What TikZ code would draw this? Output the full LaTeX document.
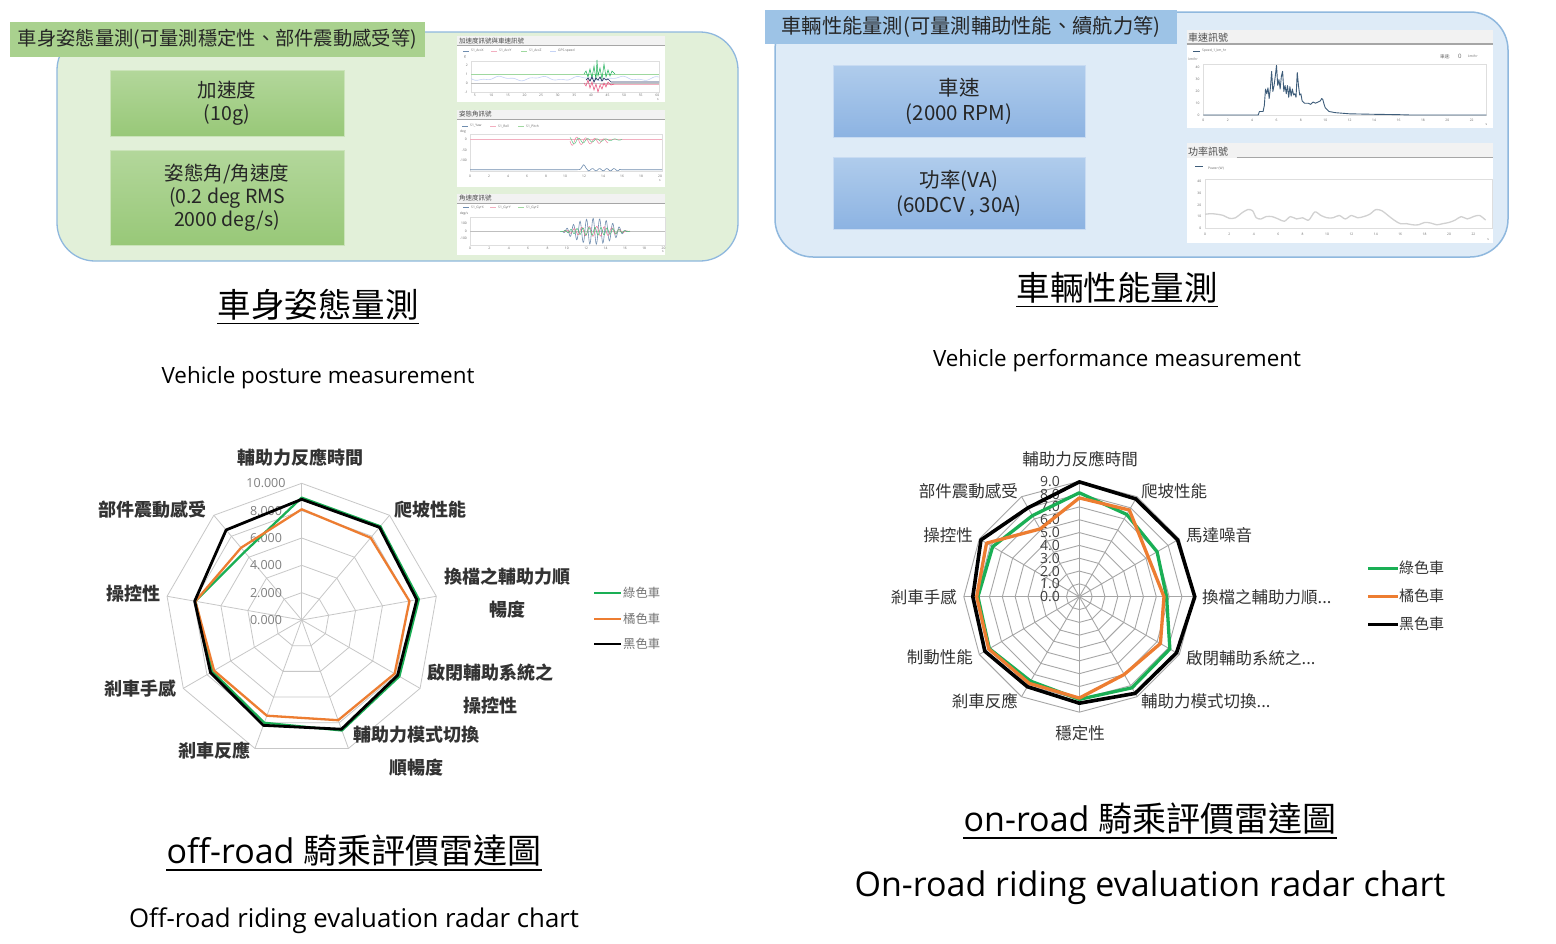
\documentclass[tikz,border=0pt]{standalone}
\usepackage{fontspec}
\setmainfont{Open Sans}
\newfontfamily\cjk{Noto Sans CJK TC}
\newcommand\fsz[1]{\fontsize{#1}{#1}\selectfont}
\definecolor{pGreen}{HTML}{E2F0D9}
\definecolor{pGreenT}{HTML}{A9D18E}
\definecolor{pBlue}{HTML}{DEEBF7}
\definecolor{pBlueT}{HTML}{9DC3E6}
\definecolor{edgeB}{HTML}{8FB8DE}
\definecolor{cG}{HTML}{1AAF55}
\definecolor{cO}{HTML}{ED7D31}
\definecolor{txt}{HTML}{262626}
\definecolor{gbTop}{HTML}{B3D79B}
\definecolor{gbBot}{HTML}{98C878}
\definecolor{bbTop}{HTML}{B0CCEC}
\definecolor{bbBot}{HTML}{8CB3E2}
\definecolor{spdC}{HTML}{3E5D7A}
\definecolor{navy}{HTML}{2B3A67}
\definecolor{pinkC}{HTML}{E8507A}
\definecolor{lpink}{HTML}{F2AFC0}
\definecolor{lblue}{HTML}{C5D3F5}
\definecolor{lgreen}{HTML}{9FD89F}
\definecolor{gblue}{HTML}{6F8DAF}
\newcommand\radarpoly[7]{%
  \draw[#1] ({#2+#6*#4*cos(90)},{#3-#6*#4*sin(90)})
    \foreach \v [count=\k] in {#7} { -- ({#2+\v*#4*cos(90-#5*\k)},{#3-\v*#4*sin(90-#5*\k)}) } -- cycle;}
\begin{document}
\begin{tikzpicture}[x=1pt,y=-1pt,
  every node/.style={inner sep=0pt},
  panelG/.style={fill=pGreen, draw=edgeB, line width=1.3pt, rounded corners=38pt},
  panelB/.style={fill=pBlue, draw=edgeB, line width=1.5pt, rounded corners=38pt},
  ttlG/.style={fill=pGreenT, minimum width=415pt, minimum height=35pt, font=\cjk\fsz{19.3}, text=txt},
  ttlB/.style={fill=pBlueT, minimum width=412pt, minimum height=34pt, font=\cjk\fsz{20.3}, text=txt},
  gbox/.style={top color=gbTop, bottom color=gbBot, draw=gbTop!70!white, line width=0.8pt, align=center, font=\cjk\fontsize{19.5}{23}\selectfont, text=txt},
  bbox/.style={top color=bbTop, bottom color=bbBot, draw=bbTop!70!white, line width=0.8pt, align=center, font=\cjk\fontsize{20.5}{25}\selectfont, text=txt},
  thumb/.style={fill=white},
  thead/.style={fill=black!5},
  tbar/.style={draw=black!35, line width=0.8pt},
  tframe/.style={draw=black!13, line width=0.4pt},
  ttitle/.style={anchor=west, font=\cjk\fsz{6.5}, text=black!70},
  tiny/.style={font=\fsz{3.3}, text=black!60},
  tinyE/.style={font=\fsz{3.3}, text=black!60, anchor=east},
  tinyW/.style={font=\fsz{3.3}, text=black!60, anchor=west},
  head/.style={font=\cjk\fsz{33.5}, text=black},
  uline/.style={draw=black, line width=1.2pt},
  gridL/.style={draw=black!22, line width=0.8pt},
  gridR/.style={draw=black!35, line width=0.9pt},
  labL/.style={font=\cjk\bfseries\fontsize{18}{33}\selectfont, text=black!80, align=center},
  labR/.style={font=\cjk\fsz{16.5}, text=black!80},
  tickL/.style={font=\fsz{12.5}, text=black!50},
  tickR/.style={font=\fsz{14}, text=black!75},
  legL/.style={font=\cjk\fsz{12.3}, text=black!55, anchor=west},
  legR/.style={font=\cjk\fsz{15}, text=black!80, anchor=west},
  sGL/.style={draw=cG, line width=2.3pt, line join=round},
  sOL/.style={draw=cO, line width=2.3pt, line join=round},
  sKL/.style={draw=black, line width=2.8pt, line join=round},
  sGR/.style={draw=cG, line width=3.3pt, line join=round},
  sOR/.style={draw=cO, line width=3.3pt, line join=round},
  sKR/.style={draw=black, line width=3.6pt, line join=round}
]
\useasboundingbox (0,0) rectangle (1556,943);
\fill[white] (0,0) rectangle (1556,943);

% ================= top-left panel =================
\draw[panelG] (57,32) rectangle (738,261);
\node[ttlG] (t1) at (217.5,39.5) {車身姿態量測(可量測穩定性、部件震動感受等)};
\node[gbox, minimum width=234pt, minimum height=66pt] (acc) at (227,103) {加速度\\(10g)};
\node[gbox, minimum width=234pt, minimum height=95pt] (att) at (227,197.5) {姿態角/角速度\\(0.2 deg RMS\\2000 deg/s)};

% thumbnail 1
\fill[thumb] (457,36) rectangle (665,102);
\fill[thead] (457,36) rectangle (665,45);
\draw[tbar] (457,45.3) -- (665,45.3);
\node[ttitle] (c1t) at (459,40.7) {加速度訊號與車速訊號};
\draw[gblue, line width=0.5pt] (463,51) -- (469,51);
\node[tinyW] (c1l1) at (471,51) {S1\_AccX};
\draw[lpink, line width=0.5pt] (491,51) -- (497,51);
\node[tinyW] (c1l2) at (499,51) {S1\_AccY};
\draw[lgreen, line width=0.5pt] (521,51) -- (527,51);
\node[tinyW] (c1l3) at (529,51) {S1\_AccZ};
\draw[lblue, line width=0.5pt] (550,51) -- (556,51);
\node[tinyW] (c1l4) at (558,51) {GPS.speed};
\node[tiny] (c1u) at (465,57) {g};
\draw[tframe] (471,61) rectangle (659,92);
\foreach \v/\y [count=\n] in {2/65.3,1/74.3,0/83,-1/92} \node[tinyE] (c1y\n) at (468,\y) {\v};
\foreach \v [count=\n] in {5,10,...,60} \node[tiny] (c1x\n) at ({474.7+(\n-1)*16.6},95.5) {\v};
\node[tiny] (c1s) at (658,100) {s};
\draw[black!25, line width=0.5pt] (471,83) -- (659,83);
\draw[lgreen, line width=0.6pt] (471,74.3) -- (659,74.3);
\draw[lblue, line width=0.6pt] plot[domain=471:659, samples=90, smooth] (\x,{78.5+1.6*sin(9*(\x-471))+0.8*sin(23*(\x-471))});
\draw[lpink, line width=0.5pt] (600,84) -- (659,84);
\draw[cG, line width=0.5pt] plot coordinates {(584,74) (586,71) (588,77) (590,69) (592,78) (594,66) (596,80) (597,60) (598,76) (600,68) (602,79) (604,64) (606,77) (608,70) (610,76) (612,71) (615,74)};
\draw[pinkC, line width=0.5pt] plot coordinates {(584,83) (586,86) (588,80) (590,88) (592,82) (594,90) (596,84) (598,92) (600,85) (602,89) (604,83) (606,87) (608,82) (611,85) (614,84)};
\draw[navy, line width=0.7pt] plot coordinates {(586,80) (588,78) (590,81) (592,77) (594,82) (596,78) (598,80) (600,77) (602,81) (604,78) (606,80) (608,79) (611,82) (659,82)};

% thumbnail 2
\fill[thumb] (457,110) rectangle (665,187);
\fill[thead] (457,110) rectangle (665,119);
\draw[tbar] (457,119) -- (665,119);
\node[ttitle] (c2t) at (459,114.3) {姿態角訊號};
\draw[gblue, line width=0.5pt] (462,126) -- (468,126);
\node[tinyW] (c2l1) at (470,126) {S1\_Yaw};
\draw[lpink, line width=0.5pt] (490,126) -- (496,126);
\node[tinyW] (c2l2) at (498,126) {S1\_Roll};
\draw[lgreen, line width=0.5pt] (518,126) -- (524,126);
\node[tinyW] (c2l3) at (526,126) {S1\_Pitch};
\node[tiny] (c2u) at (463,132) {deg};
\draw[tframe] (470,134) rectangle (662,171);
\foreach \v/\y [count=\n] in {0/139.7,-50/150,-100/160} \node[tinyE] (c2y\n) at (467,\y) {\v};
\foreach \v [count=\n] in {0,2,...,20} \node[tiny] (c2x\n) at ({470+\v*9.5},176) {\v};
\node[tiny] (c2s) at (660,181) {s};
\draw[lpink, line width=0.6pt] (470,139.7) -- (662,139.7);
\draw[pinkC!70, line width=0.5pt] plot[domain=570:608, samples=80, smooth] (\x,{141+4.5*sin(40*(\x-570))*exp(-(\x-570)/45)});
\draw[cG!70, line width=0.5pt] plot[domain=570:622, samples=90, smooth] (\x,{141-0.03*(\x-570)+3.5*sin(40*(\x-572))*exp(-(\x-570)/30)});
\draw[gblue, line width=0.6pt] plot[domain=470:662, samples=160, smooth] (\x,{169.7-5*exp(-((\x-583.7)/2.2)^2)+(\x>587)*(\x<620)*1.2*sin(50*(\x-587))});

% thumbnail 3
\fill[thumb] (457,194) rectangle (665,255);
\fill[thead] (457,194) rectangle (665,203);
\draw[tbar] (457,203) -- (665,203);
\node[ttitle] (c3t) at (459,198) {角速度訊號};
\draw[gblue, line width=0.5pt] (463,207.7) -- (469,207.7);
\node[tinyW] (c3l1) at (471,207.7) {S1\_GyrX};
\draw[lpink, line width=0.5pt] (490,207.7) -- (496,207.7);
\node[tinyW] (c3l2) at (498,207.7) {S1\_GyrY};
\draw[lgreen, line width=0.5pt] (518,207.7) -- (524,207.7);
\node[tinyW] (c3l3) at (526,207.7) {S1\_GyrZ};
\node[tiny] (c3u) at (464,214) {deg/s};
\draw[tframe] (470,217) rectangle (665,245);
\foreach \v/\y [count=\n] in {100/223.7,0/231.3,-100/238.7} \node[tinyE] (c3y\n) at (467,\y) {\v};
\foreach \v [count=\n] in {0,2,...,20} \node[tiny] (c3x\n) at ({470+\v*9.68},248.7) {\v};
\node[tiny] (c3s) at (663,252) {s};
\draw[black!25, line width=0.5pt] (470,231.3) -- (665,231.3);
\draw[gblue, line width=0.6pt] plot[domain=562:627, samples=130] (\x,{231.3+13*sin(55*(\x-562))*sin(2.8*(\x-562))});
\draw[pinkC!80, line width=0.5pt] plot[domain=562:630, samples=120] (\x,{231.3+5*sin(48*(\x-562)+40)*sin(2.7*(\x-562))});
\draw[cG!80, line width=0.5pt] plot[domain=560:630, samples=120] (\x,{231.3+4*sin(60*(\x-562)+90)*sin(2.6*(\x-560))});

% ================= top-right panel =================
\draw[panelB] (775,12) rectangle (1508,257);
\node[ttlB] (t2) at (971,27) {車輛性能量測(可量測輔助性能、續航力等)};
\node[bbox, minimum width=252pt, minimum height=72pt] (spd) at (959,101) {車速\\(2000 RPM)};
\node[bbox, minimum width=252pt, minimum height=72pt] (pwr) at (959,193) {功率(VA)\\(60DCV , 30A)};

% speed chart
\fill[thumb] (1186.7,30) rectangle (1493.3,128);
\fill[thead] (1186.7,30) rectangle (1493.3,44);
\draw[tbar, line width=1.1pt] (1186.7,44) -- (1493.3,44);
\node[ttitle, font=\cjk\fsz{10}] (s1t) at (1188,37.3) {車速訊號};
\draw[spdC, line width=0.6pt] (1193,51) -- (1200,51);
\node[tinyW] (s1l) at (1202,51) {Speed\_1\_km\_hr};
\node[tiny] (s1u) at (1193,59) {km/hr};
\node[tinyW, font=\cjk\fsz{4.5}] (s1v) at (1440,56.7) {車速:};
\node[tinyW, font=\fsz{6}] (s1z) at (1458,56.7) {0};
\node[tinyW] (s1k) at (1468,56.7) {km/hr};
\draw[tframe] (1203,64.3) rectangle (1486,115);
\begin{scope}[xshift=1203.3pt, yshift=-115pt, x=12.2pt, y=1.18pt]
  \foreach \v [count=\n] in {0,10,20,30,40} \node[tinyE] (s1y\n) at (-0.3,\v) {\v};
  \foreach \v [count=\n] in {0,2,...,22} \node[tiny] (s1x\n) at (\v,-4.3) {\v};
  \node[tiny] (s1s) at (23.2,-8.5) {s};
  \draw[spdC, line width=0.9pt, line join=round] plot coordinates {(0,0) (4.5,0) (4.6,3) (4.9,3) (5.0,8) (5.1,22) (5.2,18) (5.3,23) (5.4,14) (5.5,23) (5.6,37) (5.7,20) (5.8,25) (5.9,33) (6.0,42) (6.1,25) (6.2,30) (6.3,22) (6.4,33) (6.5,37) (6.6,20) (6.7,25) (6.8,18) (6.9,25) (7.0,15) (7.1,24) (7.2,16) (7.3,22) (7.4,17) (7.5,18) (7.6,15) (7.7,36) (7.8,25) (7.9,17) (8.0,18) (8.1,12) (8.3,10) (8.6,10) (8.8,9) (9.0,11) (9.2,10) (9.4,11) (9.6,12) (9.7,14) (9.8,13) (9.9,9) (10.0,6) (10.3,3) (10.8,2) (12,1) (14,0.6) (16,0.3) (17,0) (23.2,0)};
\end{scope}

% power chart
\fill[thumb] (1186.7,143.3) rectangle (1493.3,243.3);
\fill[thead] (1186.7,143.3) rectangle (1493.3,157.7);
\draw[tbar, line width=1.1pt] (1236.7,157.7) -- (1493.3,157.7);
\node[ttitle, font=\cjk\fsz{10}] (s2t) at (1188,151.3) {功率訊號};
\draw[spdC, line width=0.6pt] (1195,166.7) -- (1203,166.7);
\node[tinyW] (s2l) at (1208,168.3) {Power (W)};
\draw[tframe] (1205,179) rectangle (1491.7,228.3);
\begin{scope}[xshift=1205pt, yshift=-228.3pt, x=12.2pt, y=1.17pt]
  \foreach \v [count=\n] in {0,10,20,30,40} \node[tinyE] (s2y\n) at (-0.3,\v) {\v};
  \foreach \v [count=\n] in {0,2,...,22} \node[tiny] (s2x\n) at (\v,-5.2) {\v};
  \node[tiny] (s2s) at (23.2,-10) {s};
  \draw[black!18, line width=1.3pt, line join=round] plot[smooth, tension=0.5] coordinates {(0,12) (0.5,12.5) (1,12) (1.5,11) (2,8.5) (2.5,9) (3,13) (3.5,16) (3.9,15) (4.2,9) (4.6,8) (5,10) (5.5,10) (6,8) (6.5,6) (7,10) (7.5,8) (8,9) (8.5,7) (9,14) (9.5,11) (10,9) (10.5,9) (11,11) (11.5,8) (12,11) (12.5,9) (13,10) (13.5,12) (14,16) (14.5,15) (15,11) (15.5,7) (16,4) (16.5,4) (17,3) (17.5,3) (18,5) (18.5,4.5) (19,3) (19.5,4) (20,5) (20.5,7) (21,10) (21.5,8) (22,10) (22.5,11) (23,7)};
\end{scope}

% ================= headings =================
\node[head] (h1) at (318,305) {車身姿態量測};
\draw[uline] ([yshift=-3pt]h1.south west) -- ([yshift=-3pt]h1.south east);
\node[font=\fsz{22.4}] (e1) at (318,377.5) {Vehicle posture measurement};
\node[head] (h2) at (1117,288) {車輛性能量測};
\draw[uline] ([yshift=-3pt]h2.south west) -- ([yshift=-3pt]h2.south east);
\node[font=\fsz{22.4}] (e2) at (1117,360.5) {Vehicle performance measurement};
\node[font=\fsz{34}] (h3) at (354,851) {off-road {\cjk 騎乘評價雷達圖}};
\draw[uline] ([yshift=-3pt]h3.south west) -- ([yshift=-3pt]h3.south east);
\node[font=\fsz{25.8}] (e3) at (354,921) {Off-road riding evaluation radar chart};
\node[font=\fsz{34}] (h4) at (1150,819) {on-road {\cjk 騎乘評價雷達圖}};
\draw[uline] ([yshift=-3pt]h4.south west) -- ([yshift=-3pt]h4.south east);
\node[font=\fsz{34}] (e4) at (1150,888) {On-road riding evaluation radar chart};

% ================= left radar (off-road) =================
\coordinate (Lc) at (301.7,620);
\foreach \r in {2,4,6,8,10} {
  \draw[gridL] ({301.7+\r*13.67*cos(90)},{620-\r*13.67*sin(90)})
    \foreach \k in {1,...,8} { -- ({301.7+\r*13.67*cos(90-40*\k)},{620-\r*13.67*sin(90-40*\k)}) } -- cycle;
}
\foreach \k in {0,...,8} \draw[gridL] (Lc) -- ({301.7+136.7*cos(90-40*\k)},{620-136.7*sin(90-40*\k)});
\foreach \v/\s [count=\n] in {0/0.000,2/2.000,4/4.000,6/6.000,8/8.000,10/10.000}
  \node[tickL] (lt\n) at (266,{620-\v*13.67}) {\s};
\radarpoly{sGL}{301.7}{620}{13.67}{40}{8.95}{8.95,8.7,8.25,8.6,8.0,7.55,7.9,6.5}
\radarpoly{sOL}{301.7}{620}{13.67}{40}{8.1}{7.85,8.0,7.85,7.8,7.45,7.4,7.9,6.9}
\radarpoly{sKL}{301.7}{620}{13.67}{40}{8.83}{8.85,8.55,8.1,8.5,8.2,7.7,7.95,8.6}
\node[labL] (la0) at (300,458) {輔助力反應時間};
\node[labL] (la1) at (430,510) {爬坡性能};
\node[labL, anchor=north] (la2) at (507,568) {換檔之輔助力順\\暢度};
\node[labL, anchor=north] (la3) at (490,664) {啟閉輔助系統之\\操控性};
\node[labL, anchor=north] (la4) at (416,726) {輔助力模式切換\\順暢度};
\node[labL] (la5) at (214,751) {剎車反應};
\node[labL] (la6) at (140,689) {剎車手感};
\node[labL] (la7) at (133,594) {操控性};
\node[labL] (la8) at (152,510) {部件震動感受};
\draw[cG, line width=2.2pt] (594,593) -- (621,593);
\node[legL] (lg1) at (623,593) {綠色車};
\draw[cO, line width=2.2pt] (594,619) -- (621,619);
\node[legL] (lg2) at (623,619) {橘色車};
\draw[black, line width=2.2pt] (594,644) -- (621,644);
\node[legL] (lg3) at (623,644) {黑色車};

% ================= right radar (on-road) =================
\coordinate (Rc) at (1079.3,596.7);
\foreach \r in {1,...,9} {
  \draw[gridR] ({1079.3+\r*12.83*cos(90)},{596.7-\r*12.83*sin(90)})
    \foreach \k in {1,...,11} { -- ({1079.3+\r*12.83*cos(90-30*\k)},{596.7-\r*12.83*sin(90-30*\k)}) } -- cycle;
}
\foreach \k in {0,...,11} \draw[gridR] (Rc) -- ({1079.3+115.5*cos(90-30*\k)},{596.7-115.5*sin(90-30*\k)});
\foreach \v [count=\n] in {0,...,9}
  \node[tickR] (rt\n) at (1050,{596.7-\v*12.83}) {\v.0};
\radarpoly{sGR}{1079.3}{596.7}{12.83}{30}{8.1}{7.4,7.0,6.8,8.15,8.2,8.0,7.6,8.1,7.9,7.8,7.3}
\radarpoly{sOR}{1079.3}{596.7}{12.83}{30}{7.7}{7.8,6.2,6.6,7.3,7.0,7.9,7.8,8.15,8.0,8.35,6.1}
\radarpoly{sKR}{1079.3}{596.7}{12.83}{30}{8.95}{8.8,8.85,9.0,8.75,8.7,8.3,8.1,8.5,8.3,8.85,8.0}
\node[labR] (ra0) at (1080,459) {輔助力反應時間};
\node[labR] (ra1) at (1174,491) {爬坡性能};
\node[labR, anchor=west] (ra2) at (1186,535) {馬達噪音};
\node[labR, anchor=west] (ra3) at (1202,597) {換檔之輔助力順...};
\node[labR, anchor=west] (ra4) at (1186,658) {啟閉輔助系統之...};
\node[labR, anchor=west] (ra5) at (1141,701) {輔助力模式切換...};
\node[labR] (ra6) at (1080,733) {穩定性};
\node[labR, anchor=east] (ra7) at (1018,701) {剎車反應};
\node[labR, anchor=east] (ra8) at (973,657) {制動性能};
\node[labR, anchor=east] (ra9) at (957,597) {剎車手感};
\node[labR, anchor=east] (ra10) at (973,535) {操控性};
\node[labR, anchor=east] (ra11) at (1018,491) {部件震動感受};
\draw[cG, line width=3pt] (1368,568) -- (1398,568);
\node[legR] (rg1) at (1399,568) {綠色車};
\draw[cO, line width=3pt] (1368,596) -- (1398,596);
\node[legR] (rg2) at (1399,596) {橘色車};
\draw[black, line width=3pt] (1368,624) -- (1398,624);
\node[legR] (rg3) at (1399,624) {黑色車};
\end{tikzpicture}
\end{document}
